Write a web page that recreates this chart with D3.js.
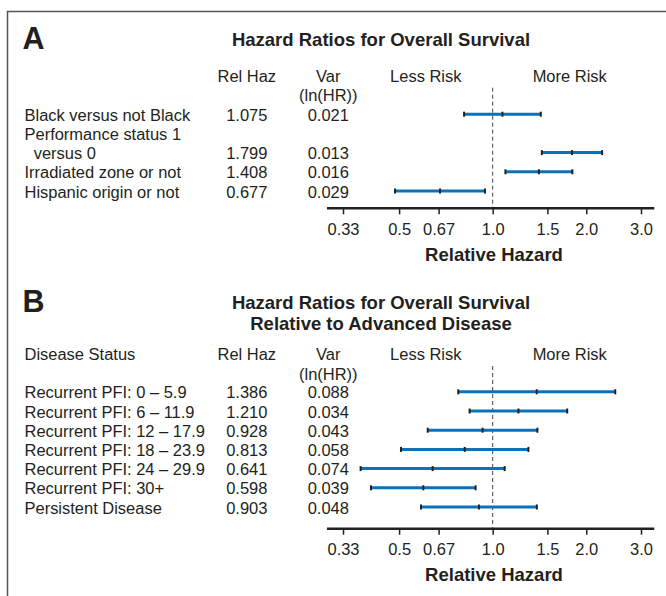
<!DOCTYPE html>
<html>
<head>
<meta charset="utf-8">
<script src="https://cdn.jsdelivr.net/npm/d3@7"></script>
<style>
  body { margin: 0; background: #fff; }
  svg { display: block; }
  text { font-family: "Liberation Sans", Arial, sans-serif; fill: #231f20; }
</style>
</head>
<body>
<div id="chart"></div>
<script>
// ── Panel A: covariates ─────────────────────────────────────────────────────
const labelsA = [['Black versus not Black'], ['Performance status 1', '  versus 0'], ['Irradiated zone or not'], ['Hispanic origin or not']];
const hrA     = [1.075, 1.799, 1.408, 0.677];
const varA    = ['0.021', '0.013', '0.016', '0.029'];
const loA     = [0.809, 1.439, 1.099, 0.485];
const hiA     = [1.428, 2.249, 1.804, 0.945];

// ── Panel B: disease status ─────────────────────────────────────────────────
const labelsB = [['Recurrent PFI: 0 – 5.9'], ['Recurrent PFI: 6 – 11.9'], ['Recurrent PFI: 12 – 17.9'], ['Recurrent PFI: 18 – 23.9'], ['Recurrent PFI: 24 – 29.9'], ['Recurrent PFI: 30+'], ['Persistent Disease']];
const hrB     = [1.386, 1.210, 0.928, 0.813, 0.641, 0.598, 0.903];
const varB    = ['0.088', '0.034', '0.043', '0.058', '0.074', '0.039', '0.048'];
const loB     = [0.775, 0.843, 0.618, 0.507, 0.376, 0.406, 0.588];
const hiB     = [2.479, 1.737, 1.393, 1.303, 1.093, 0.881, 1.387];

const tickVals   = [0.33, 0.5, 0.67, 1, 1.5, 2, 3];
const tickLabels = ['0.33', '0.5', '0.67', '1.0', '1.5', '2.0', '3.0'];
const axisExtent = [0.293, 3.31];

const W = 666, H = 596;
const BLUE = '#0a72ba', INK = '#231f20';
const FS = 16, SX = 1.03;

const svg = d3.select('#chart').append('svg').attr('width', W).attr('height', H);

// frame (cropped: only top and left edges show)
svg.append('path').attr('d', `M7.5,${H} V11.5 H${W}`)
  .attr('fill', 'none').attr('stroke', '#555').attr('stroke-width', 1.5);

const x = d3.scaleLog().domain([0.33, 3]).range([343, 641]);

function txt(parent, tx, ty, str, o = {}) {
  const bold = !!o.bold;
  return parent.append('text')
    .attr('transform', `translate(${tx},${ty}) scale(${o.sx || (bold ? 1 : SX)},1)`)
    .attr('text-anchor', o.anchor || 'start')
    .attr('xml:space', 'preserve').style('white-space', 'pre')
    .style('font-size', (o.size || FS) + 'px')
    .style('font-weight', bold ? 'bold' : null)
    .text(str);
}

function panel(opts) {
  const { top, letter, titles, firstCol, labels, hr, vr, lo, hi } = opts;
  const g = svg.append('g').attr('transform', `translate(0,${top})`);

  txt(g, 22.5, 38.3, letter, { bold: true, size: 30.5 });

  titles.forEach((t, i) => txt(g, 381, 35 + i * 21, t, { bold: true, size: 18.5, anchor: 'middle' }));

  // header row
  const hy = opts.headerY;
  if (firstCol) txt(g, 24.5, hy, firstCol);
  txt(g, 246.8, hy, 'Rel Haz', { anchor: 'middle' });
  txt(g, 328.3, hy, 'Var', { anchor: 'middle' });
  txt(g, 328.3, hy + 19.5, '(ln(HR))', { anchor: 'middle' });
  txt(g, 425.8, hy, 'Less Risk', { anchor: 'middle' });
  txt(g, 569.7, hy, 'More Risk', { anchor: 'middle' });

  // row lines: values sit on the last line of each label
  let line = 0;
  const rows = labels.map((lines, i) => {
    const start = line;
    line += lines.length;
    return { lines, start, valueLine: line - 1, hr: hr[i], vr: vr[i], lo: lo[i], hi: hi[i] };
  });
  const y = d3.scaleLinear().domain([0, 1]).range([opts.firstRowY, opts.firstRowY + 19.2]);

  rows.forEach(r => {
    r.lines.forEach((t, k) => txt(g, 24.5, y(r.start + k), t));
    txt(g, 246.8, y(r.valueLine), d3.format('.3f')(r.hr), { anchor: 'middle' });
    txt(g, 328.3, y(r.valueLine), r.vr, { anchor: 'middle' });
  });

  const axisY = opts.axisY;

  // reference line at HR = 1
  g.append('line').attr('x1', x(1)).attr('x2', x(1))
    .attr('y1', hy + 6).attr('y2', axisY)
    .attr('stroke', '#444').attr('stroke-width', 1).attr('stroke-dasharray', '4,3');

  // confidence intervals
  const ci = g.append('g').selectAll('g').data(rows).join('g')
    .attr('transform', r => `translate(0,${y(r.valueLine) - 6.5})`);
  ci.append('line').attr('x1', r => x(r.lo)).attr('x2', r => x(r.hi))
    .attr('stroke', BLUE).attr('stroke-width', 3);
  ci.selectAll('rect').data(r => [r.lo, r.hr, r.hi]).join('rect')
    .attr('x', v => x(v) - 1).attr('y', -2.5).attr('width', 2).attr('height', 5)
    .attr('fill', INK);

  // axis
  const axis = d3.axisBottom(x).tickValues(tickVals)
    .tickFormat((d, i) => tickLabels[i]).tickSize(6).tickPadding(9).tickSizeOuter(0);
  const ax = g.append('g').attr('transform', `translate(0,${axisY})`).call(axis);
  ax.select('.domain').remove();
  ax.selectAll('.tick line').attr('stroke', INK).attr('stroke-width', 1.5);
  ax.selectAll('.tick text').style('font-size', FS + 'px').style('font-family', null).attr('fill', null)
    .attr('transform', `scale(${SX},1)`);
  ax.append('line').attr('x1', x(axisExtent[0])).attr('x2', x(axisExtent[1]))
    .attr('stroke', INK).attr('stroke-width', 2.5);

  txt(g, 494, axisY + 52.5, 'Relative Hazard', { bold: true, size: 18.5, anchor: 'middle' });
}

panel({ top: 11, letter: 'A', titles: ['Hazard Ratios for Overall Survival'], firstCol: null,
  headerY: 70.7, firstRowY: 109.7, axisY: 197.3,
  labels: labelsA, hr: hrA, vr: varA, lo: loA, hi: hiA });

panel({ top: 274, letter: 'B', titles: ['Hazard Ratios for Overall Survival', 'Relative to Advanced Disease'],
  firstCol: 'Disease Status', headerY: 86, firstRowY: 124.3, axisY: 254.7,
  labels: labelsB, hr: hrB, vr: varB, lo: loB, hi: hiB });
</script>
</body>
</html>
